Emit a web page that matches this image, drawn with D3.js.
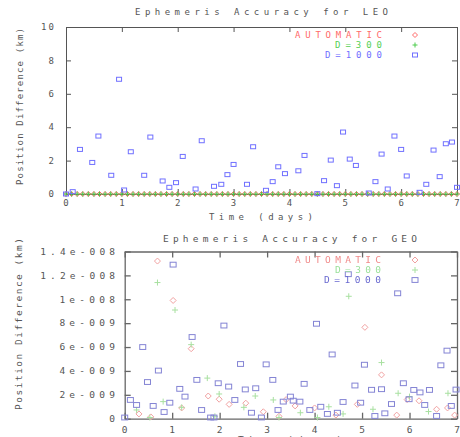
<!DOCTYPE html>
<html><head><meta charset="utf-8">
<script src="https://cdn.jsdelivr.net/npm/d3@7"></script>
<style>
html,body{margin:0;padding:0;background:#fff;}
svg{display:block;}
text{font-family:"DejaVu Sans Mono",monospace;}
</style></head>
<body>
<script>
// ---------- DATA ----------
const seriesNames = ["AUTOMATIC", "D=300", "D=1000"];
// LEO (km)
const leoZeroDays = [0,0.1,0.2,0.3,0.4,0.5,0.6,0.7,0.8,0.9,1.0,1.1,1.2,1.3,1.4,1.5,1.6,1.7,1.8,1.9,2.0,2.1,2.2,2.3,2.4,2.5,2.6,2.7,2.8,2.9,3.0,3.1,3.2,3.3,3.4,3.5,3.6,3.7,3.8,3.9,4.0,4.1,4.2,4.3,4.4,4.5,4.6,4.7,4.8,4.9,5.0,5.1,5.2,5.3,5.4,5.5,5.6,5.7,5.8,5.9,6.0,6.1,6.2,6.3,6.4,6.5,6.6,6.7,6.8,6.9,7.0];
const leoAutoValues = [0,0,0,0,0,0,0,0,0,0,0,0,0,0,0,0,0,0,0,0,0,0,0,0,0,0,0,0,0,0,0,0,0,0,0,0,0,0,0,0,0,0,0,0,0,0,0,0,0,0,0,0,0,0,0,0,0,0,0,0,0,0,0,0,0,0,0,0,0,0,0];
const leoD300Values = [0,0,0,0,0,0,0,0,0,0,0,0,0,0,0,0,0,0,0,0,0,0,0,0,0,0,0,0,0,0,0,0,0,0,0,0,0,0,0,0,0,0,0,0,0,0,0,0,0,0,0,0,0,0,0,0,0,0,0,0,0,0,0,0,0,0,0,0,0,0,0];
const leoD1000Days = [0,0.12,0.25,0.47,0.58,0.81,0.95,1.04,1.16,1.40,1.51,1.73,1.85,1.97,2.09,2.32,2.43,2.65,2.78,2.89,3.00,3.24,3.35,3.58,3.70,3.80,3.92,4.16,4.27,4.50,4.62,4.74,4.85,4.96,5.08,5.19,5.42,5.54,5.65,5.76,5.88,6.00,6.10,6.33,6.45,6.58,6.69,6.80,6.91,7.0];
const leoD1000Values = [0,0.14,2.67,1.89,3.47,1.12,6.87,0.24,2.53,1.12,3.41,0.78,0.40,0.68,2.25,0.30,3.19,0.46,0.58,1.16,1.77,0.58,2.83,0.22,0.74,1.63,1.22,1.39,2.31,0.02,0.80,2.03,0.50,3.71,2.09,1.71,0.06,0.74,2.39,0.30,3.47,2.67,1.08,0.10,0.58,2.63,1.04,3.01,3.11,0.40];
const leoYTicks = [0,2,4,6,8,10];
const leoYTickLabels = ["0","2","4","6","8","10"];
const xTicks = [0,1,2,3,4,5,6,7];
const xTickLabels = ["0","1","2","3","4","5","6","7"];

// GEO (km, x 1e-9)
const geoAutoDays   = [0.69,1.02,1.40,5.06,5.41,1.76,1.99,2.92,3.59,6.57,5.73,0.30,0.55,2.20,3.40,4.00,4.45,4.90,6.20,6.95,1.20,2.55,3.25,6.80,5.95];
const geoAutoValues = [13.2,9.9,5.86,7.65,3.67,1.9,1.63,0.58,1.07,0.79,0.3,0.4,0.15,1.2,1.6,0.9,0.3,1.2,1.5,0.3,0.9,1.3,0.2,0.9,1.6];
const geoD300Days   = [0.69,1.06,1.40,4.72,5.41,1.74,1.99,0.81,3.13,3.25,4.06,5.76,6.81,6.00,5.23,2.51,1.20,0.25,0.53,4.30,2.75,3.70,6.40,1.90,4.60];
const geoD300Values = [11.4,9.1,6.2,10.25,4.7,3.4,2.07,1.43,1.57,0.1,0.1,2.13,2.13,1.85,0.79,0.95,0.95,0.73,0.1,1.0,1.9,0.5,0.6,0.2,0.4];
const geoD1000Days   = [1.02,4.71,5.75,2.09,4.04,1.42,0.38,4.37,6.79,2.44,2.98,5.05,6.66,0.71,0.48,1.52,3.12,3.78,1.97,2.19,4.85,5.87,1.16,2.54,2.76,5.20,5.41,6.09,6.22,6.42,6.98,1.27,0.12,0.25,0.60,0.95,0.83,0.00,1.62,1.81,1.88,2.32,3.49,3.34,3.55,3.69,2.67,2.88,3.23,3.90,4.13,4.27,4.48,4.60,4.97,5.27,5.48,5.62,5.99,6.32,6.57,6.88];
const geoD1000Values = [12.9,12.1,10.5,7.8,7.95,6.84,6.0,5.38,5.7,4.58,4.55,4.52,4.47,4.03,3.07,3.25,3.25,2.92,2.97,2.69,2.78,2.97,2.5,2.45,2.55,2.42,2.47,2.41,2.2,2.41,2.44,1.85,1.57,1.15,1.07,1.34,0.56,0.1,0.73,0.1,0.1,1.57,1.85,1.43,1.51,1.43,0.5,0.1,0.73,0.73,1.0,0.4,0.5,1.4,1.34,0.23,0.45,1.23,1.63,1.15,0.23,1.07];
const geoScale = 1e-9;
const geoYTicks = [0,2e-9,4e-9,6e-9,8e-9,1e-8,1.2e-8,1.4e-8];
const geoYTickLabels = ["0","2e-009","4e-009","6e-009","8e-009","1e-008","1.2e-008","1.4e-008"];

// ---------- DRAW ----------
const W = 460, H = 437;
const svg = d3.select("body").append("svg").attr("width", W).attr("height", H);
const defs = svg.append("defs");
defs.append("filter").attr("id","soft").append("feGaussianBlur").attr("stdDeviation",0.45);

function label(g, x, y, s, len, opt) {
  opt = opt || {};
  const t = g.append("text")
    .attr("x", x).attr("y", y)
    .attr("dy", "0.35em")
    .attr("text-anchor", opt.anchor || "middle")
    .attr("font-size", opt.size || 9)
    .attr("fill", opt.fill || "#555")
    .text(s);
  if (len) t.attr("textLength", len).attr("lengthAdjust", "spacing");
  if (opt.rotate) t.attr("transform", `rotate(-90,${x},${y})`);
  return t;
}

function marker(g, type, x, y, color, sw, sz) {
  sw = sw || 1; sz = sz || 1;
  const a = 2.5*sz, b = 2*sz;
  if (type === "diamond") {
    g.append("path").attr("d", `M${x-a},${y}L${x},${y-a}L${x+a},${y}L${x},${y+a}Z`)
      .attr("fill","none").attr("stroke",color).attr("stroke-width",sw);
  } else if (type === "plus") {
    g.append("path").attr("d", `M${x-a},${y}H${x+a}M${x},${y-a}V${y+a}`)
      .attr("fill","none").attr("stroke",color).attr("stroke-width",sw);
  } else {
    g.append("rect").attr("x", x-a).attr("y", y-b).attr("width",2*a).attr("height",2*b)
      .attr("fill","none").attr("stroke",color).attr("stroke-width",sw);
  }
}

function panel(cfg) {
  const g = svg.append("g");
  const x = d3.scaleLinear().domain([0,7]).range([cfg.x0, cfg.x1]);
  const y = d3.scaleLinear().domain(cfg.yDomain).range([cfg.yB, cfg.yT]);
  const tick = cfg.tick;

  const fmtX = () => "";
  const ax = [
    [d3.axisBottom(x).tickValues(xTicks).tickSize(-tick).tickSizeOuter(0).tickFormat(fmtX), `translate(0,${cfg.yB})`],
    [d3.axisTop(x).tickValues(xTicks).tickSize(-tick).tickSizeOuter(0).tickFormat(fmtX), `translate(0,${cfg.yT})`],
    [d3.axisLeft(y).tickValues(cfg.yTicks).tickSize(-tick).tickSizeOuter(0).tickFormat(fmtX), `translate(${cfg.x0},0)`],
    [d3.axisRight(y).tickValues(cfg.yTicks).tickSize(-tick).tickSizeOuter(0).tickFormat(fmtX), `translate(${cfg.x1},0)`]
  ];
  ax.forEach(([a, tr]) => {
    const ag = g.append("g").attr("transform", tr).call(a);
    ag.select(".domain").attr("stroke", cfg.axisColor).attr("stroke-width", cfg.axisW);
    ag.selectAll(".tick line").attr("stroke", cfg.axisColor).attr("stroke-width", cfg.axisW);
    ag.selectAll(".tick text").remove();
  });
  xTicks.forEach((d,i) => label(g, x(d), cfg.xLabY, xTickLabels[i], null, {size: cfg.fs}));
  cfg.yTicks.forEach((d,i) => {
    const s = cfg.yTickLabels[i];
    label(g, cfg.yLabX, y(d), s, s.length > 1 ? s.length*cfg.yCharW - 2 : null, {anchor:"end", size: cfg.fs});
  });
  label(g, cfg.titleX, cfg.titleY, cfg.title, cfg.titleLen, {size: cfg.fs});
  label(g, cfg.xTitleX, cfg.xTitleY, "Time (days)", cfg.xTitleLen, {size: cfg.fs});
  label(g, cfg.yTitleX, cfg.yTitleY, "Position Difference (km)", cfg.yTitleLen, {size: cfg.fs, rotate: true});

  const mg = g.append("g");
  if (cfg.blur) mg.attr("filter","url(#soft)");
  const types = ["diamond","plus","square"];
  cfg.series.forEach((s, k) => {
    s.days.forEach((d, i) => marker(mg, types[k], x(d), y(s.values[i]*cfg.mult), cfg.colors[k], cfg.mw, cfg.msz));
  });
  const lg = g.append("g");
  if (cfg.blur) lg.attr("filter","url(#soft)");
  seriesNames.forEach((n, k) => {
    label(lg, cfg.legEndX, cfg.legY[k], n, cfg.legLen[k], {anchor:"end", fill: cfg.textColors[k], size: cfg.fs});
    marker(lg, types[k], cfg.legSymX, cfg.legY[k], cfg.colors[k], cfg.mw, cfg.msz);
  });
}

panel({
  x0: 66, x1: 457, yT: 27, yB: 194, yDomain: [0,10], tick: 5,
  yTicks: leoYTicks, yTickLabels: leoYTickLabels,
  axisColor: "#555", axisW: 1, fs: 9,
  xLabY: 203, yLabX: 54, yCharW: 7.5,
  title: "Ephemeris Accuracy for LEO", titleX: 261.5, titleY: 12, titleLen: 253,
  xTitleX: 261, xTitleY: 217, xTitleLen: 104,
  yTitleX: 20, yTitleY: 106.5, yTitleLen: 157,
  mult: 1, mw: 1, msz: 1,
  series: [
    {days: leoZeroDays, values: leoAutoValues},
    {days: leoZeroDays, values: leoD300Values},
    {days: leoD1000Days, values: leoD1000Values}
  ],
  colors: ["#ff6a6a", "#4ccc4c", "#7070ff"],
  textColors: ["#ff6a6a", "#55d055", "#7070ff"],
  legEndX: 382, legSymX: 415, legY: [35,45,55], legLen: [87, 47, 57]
});

panel({
  x0: 124.7, x1: 457, yT: 251.5, yB: 418.7, yDomain: [0,1.4e-8], tick: 6,
  yTicks: geoYTicks, yTickLabels: geoYTickLabels,
  axisColor: "#666", axisW: 1.3, fs: 9.5, blur: true,
  xLabY: 430, yLabX: 115, yCharW: 9.6,
  title: "Ephemeris Accuracy for GEO", titleX: 290, titleY: 239, titleLen: 254,
  xTitleX: 290, xTitleY: 439.5, xTitleLen: 104,
  yTitleX: 19, yTitleY: 324, yTitleLen: 172,
  mult: geoScale, mw: 1, msz: 1.2,
  series: [
    {days: geoAutoDays, values: geoAutoValues},
    {days: geoD300Days, values: geoD300Values},
    {days: geoD1000Days, values: geoD1000Values}
  ],
  colors: ["#f0a0a0", "#a8e0a0", "#8484d4"],
  textColors: ["#f08a8a", "#9ae09a", "#6a6ad0"],
  legEndX: 381, legSymX: 415, legY: [260,270,280], legLen: [86, 46, 57]
});
</script>
</body></html>
